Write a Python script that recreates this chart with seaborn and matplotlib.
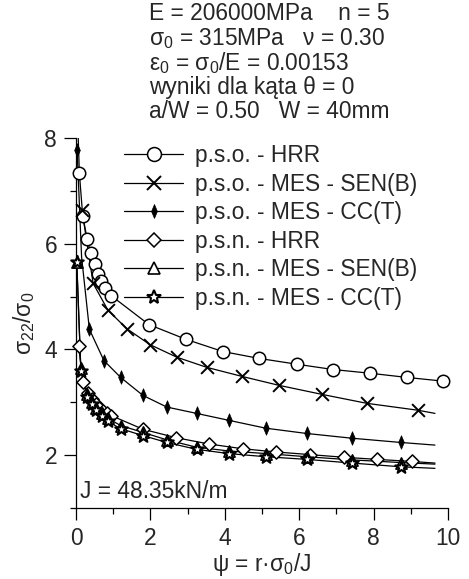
import numpy as np
import pandas as pd
import matplotlib
matplotlib.use("Agg")
import matplotlib.pyplot as plt
from matplotlib.lines import Line2D
from matplotlib.ticker import MultipleLocator
import seaborn as sns

# ---------------- data ----------------
labels = ["p.s.o. - HRR", "p.s.o. - MES - SEN(B)", "p.s.o. - MES - CC(T)",
          "p.s.n. - HRR", "p.s.n. - MES - SEN(B)", "p.s.n. - MES - CC(T)"]

# p.s.o. HRR (circles)
pso_hrr_x = [0.09, 0.18, 0.3, 0.39, 0.5, 0.59, 0.68, 0.79, 0.94, 1.96, 2.96, 3.95, 4.92, 5.94, 6.91, 7.9, 8.9, 9.87]
pso_hrr_y = [7.34, 6.53, 6.09, 5.83, 5.62, 5.43, 5.30, 5.17, 5.02, 4.47, 4.19, 3.96, 3.83, 3.72, 3.62, 3.55, 3.47, 3.40]
pso_hrr_line_x = [0.06] + pso_hrr_x + [10.0]
pso_hrr_line_y = [8.0] + pso_hrr_y + [3.39]

# p.s.o. MES SEN(B) (x)
pso_sen_x = [0.16, 0.46, 0.86, 1.37, 1.99, 2.72, 3.52, 4.46, 5.46, 6.61, 7.82, 9.19]
pso_sen_y = [6.64, 5.25, 4.74, 4.39, 4.09, 3.85, 3.66, 3.49, 3.32, 3.15, 2.98, 2.85]
pso_sen_line_x = pso_sen_x + [9.65]
pso_sen_line_y = pso_sen_y + [2.79]

# p.s.o. MES CC(T) (filled thin diamond)
pso_cct_x = [0.03, 0.36, 0.75, 1.2, 1.8, 2.44, 3.24, 4.1, 5.1, 6.2, 7.42, 8.73]
pso_cct_y = [7.77, 4.38, 3.79, 3.47, 3.13, 2.91, 2.79, 2.66, 2.51, 2.41, 2.32, 2.24]
pso_cct_line_x = [0.03, 0.15] + pso_cct_x[1:] + [9.65]
pso_cct_line_y = [7.77, 5.75] + pso_cct_y[1:] + [2.19]

# p.s.n. HRR (open diamond)
psn_hrr_x = [0.07, 0.19, 0.32, 0.43, 0.53, 0.63, 0.73, 0.83, 0.94, 1.8, 2.69, 3.58, 4.49, 5.38, 6.29, 7.2, 8.09, 9.03]
psn_hrr_y = [4.06, 3.38, 3.18, 3.06, 2.97, 2.90, 2.84, 2.79, 2.75, 2.49, 2.33, 2.21, 2.12, 2.06, 2.01, 1.96, 1.92, 1.88]
psn_hrr_line_x = psn_hrr_x + [9.65]
psn_hrr_line_y = psn_hrr_y + [1.85]

# p.s.n. MES SEN(B) (triangles)
psn_sen_x = [0.02, 0.13, 0.3, 0.42, 0.55, 0.7, 0.85, 1.2, 1.8, 2.44, 3.24, 4.1, 5.1, 6.2, 7.42, 8.73]
psn_sen_y = [5.66, 3.64, 3.15, 3.01, 2.90, 2.79, 2.70, 2.56, 2.43, 2.29, 2.15, 2.08, 2.03, 1.97, 1.91, 1.86]
psn_sen_line_x = psn_sen_x + [9.65]
psn_sen_line_y = psn_sen_y + [1.83]

# p.s.n. MES CC(T) (stars)
psn_cct_x = [0.02, 0.13, 0.3, 0.42, 0.55, 0.7, 0.85, 1.2, 1.8, 2.44, 3.24, 4.1, 5.1, 6.2, 7.42, 8.73]
psn_cct_y = [5.66, 3.60, 3.10, 2.96, 2.85, 2.74, 2.64, 2.50, 2.37, 2.24, 2.11, 2.03, 1.97, 1.92, 1.85, 1.78]
psn_cct_line_x = psn_cct_x + [9.65]
psn_cct_line_y = psn_cct_y + [1.75]

x_major = [0, 2, 4, 6, 8, 10]
y_major = [2, 4, 6, 8]

info_lines = ["E = 206000MPa    n = 5",
              "σ$_0$ = 315MPa   ν = 0.30",
              "ε$_0$ = σ$_0$/E = 0.00153",
              "wyniki dla kąta θ = 0",
              "a/W = 0.50   W = 40mm"]
j_text = "J = 48.35kN/m"

# ---------------- style ----------------
sns.set_style("ticks")
plt.rcParams["font.family"] = ["Liberation Sans", "DejaVu Sans"]
plt.rcParams["mathtext.fontset"] = "custom"
plt.rcParams["mathtext.rm"] = "Liberation Sans"
plt.rcParams["mathtext.it"] = "Liberation Sans"
plt.rcParams["mathtext.bf"] = "Liberation Sans:bold"
FS = 16.4

W, H = 469, 579
fig = plt.figure(figsize=(W / 100, H / 100), dpi=100)
ax = fig.add_axes([76 / W, 1 - 508 / H, (448 - 76) / W, (508 - 138) / H])

thin_diamond = [(0, 1), (0.42, 0), (0, -1), (-0.42, 0), (0, 1)]

series = [
    (pso_hrr_line_x, pso_hrr_line_y, pso_hrr_x, pso_hrr_y, dict(marker="o", s=80, facecolors="white", edgecolors="k", linewidths=1.1)),
    (pso_sen_line_x, pso_sen_line_y, pso_sen_x, pso_sen_y, dict(marker="x", s=85, color="k", linewidths=1.4)),
    (pso_cct_line_x, pso_cct_line_y, pso_cct_x, pso_cct_y, dict(marker=thin_diamond, s=95, color="k", edgecolors="k", linewidths=0.5)),
    (psn_hrr_line_x, psn_hrr_line_y, psn_hrr_x, psn_hrr_y, dict(marker="D", s=45, facecolors="white", edgecolors="k", linewidths=1.1)),
    (psn_sen_line_x, psn_sen_line_y, psn_sen_x, psn_sen_y, dict(marker="^", s=65, facecolors="white", edgecolors="k", linewidths=1.2)),
    (psn_cct_line_x, psn_cct_line_y, psn_cct_x, psn_cct_y, dict(marker="*", s=90, facecolors="white", edgecolors="k", linewidths=1.5)),
]

for lx, ly, mx, my, mk in series:
    sns.lineplot(x=lx, y=ly, ax=ax, color="k", lw=0.9, sort=False, estimator=None, legend=False, zorder=2)
for lx, ly, mx, my, mk in series:
    sns.scatterplot(x=mx, y=my, ax=ax, legend=False, zorder=3, clip_on=False, **mk)

ax.set_xlim(0, 10)
ax.set_ylim(1, 8)
ax.set_xticks(x_major)
ax.set_yticks(y_major)
ax.xaxis.set_minor_locator(MultipleLocator(1))
ax.yaxis.set_minor_locator(MultipleLocator(1))
ax.tick_params(which="major", length=8.6, width=0.9, labelsize=FS, direction="out", color="k", pad=5.0)
ax.tick_params(which="minor", length=4.3, width=0.9, direction="out", color="k")
sns.despine(ax=ax)
for sp in ["left", "bottom"]:
    ax.spines[sp].set_linewidth(0.9)
    ax.spines[sp].set_color("k")

ax.set_xlabel("ψ = r·σ$_0$/J", fontsize=FS, labelpad=1)
ax.set_ylabel("σ$_{22}$/σ$_0$", fontsize=FS, labelpad=5)

# legend
marker_kw = [
    dict(marker="o", markersize=10, markerfacecolor="white", markeredgecolor="k", markeredgewidth=1.1),
    dict(marker="x", markersize=10, markeredgecolor="k", markeredgewidth=1.4),
    dict(marker=thin_diamond, markersize=10, markerfacecolor="k", markeredgecolor="k", markeredgewidth=0.5),
    dict(marker="D", markersize=7, markerfacecolor="white", markeredgecolor="k", markeredgewidth=1.1),
    dict(marker="^", markersize=9, markerfacecolor="white", markeredgecolor="k", markeredgewidth=1.2),
    dict(marker="*", markersize=10.5, markerfacecolor="white", markeredgecolor="k", markeredgewidth=1.5),
]
handles = [Line2D([0], [0], color="k", lw=0.9, **kw) for kw in marker_kw]
fig.legend(handles, labels, loc="upper left", bbox_to_anchor=(124 / W, 1 - 144 / H),
           frameon=False, fontsize=FS, handlelength=2.6, handletextpad=0.52,
           labelspacing=0.245, borderpad=0, borderaxespad=0)

for i, t in enumerate(info_lines):
    fig.text(149 / W, 1 - (14 + 24.5 * i) / H, t, fontsize=FS, ha="left", va="center")

ax.text(80 / W, 1 - 492 / H, j_text, transform=fig.transFigure, fontsize=FS, ha="left", va="center")

fig.savefig("out.png", dpi=100)
